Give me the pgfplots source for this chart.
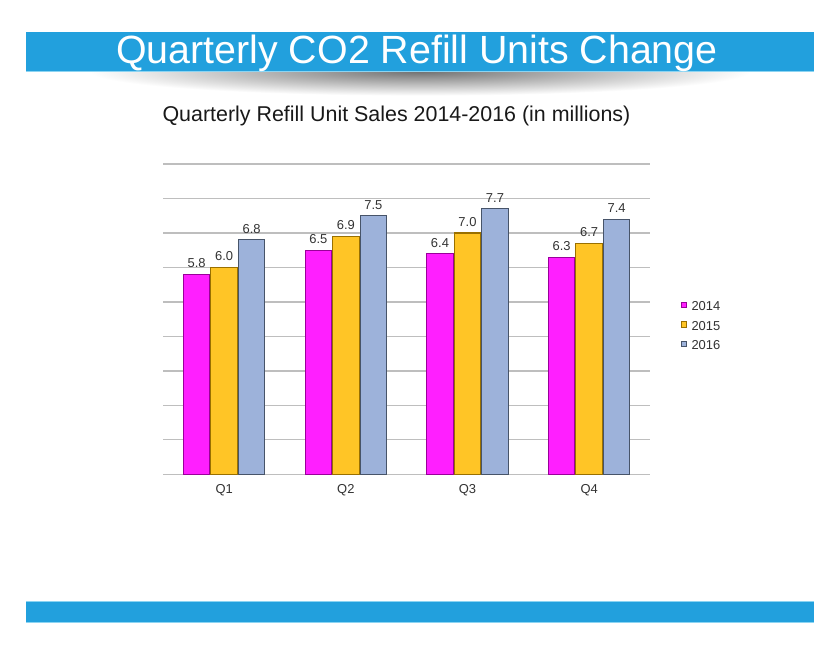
\documentclass[border=0pt]{standalone}
\usepackage{graphicx}
\usepackage{pgfplots}
\pgfplotsset{compat=1.18}
\usepackage{fontspec}
\setmainfont{Liberation Sans}
\definecolor{banner}{HTML}{22A0DD}
\definecolor{bannerlight}{HTML}{8CD4F2}
\definecolor{cMag}{HTML}{FF1FFF}
\definecolor{cMagD}{HTML}{9A009A}
\definecolor{cOr}{HTML}{FFC526}
\definecolor{cOrD}{HTML}{9A7000}
\definecolor{cBl}{HTML}{9DB2DA}
\definecolor{cBlD}{HTML}{475469}
\definecolor{gridc}{HTML}{BEBEBE}
\definecolor{txt}{HTML}{333333}
\begin{document}
\begin{tikzpicture}
\fill[white] (0,0) rectangle (838bp,646bp);
\useasboundingbox (0,0) rectangle (838bp,646bp);
\begin{scope}
\clip (26bp,540bp) rectangle (814bp,574.3bp);
\shade[inner color=black!55, outer color=white] (420bp,574.3bp) ellipse (330bp and 24bp);
\end{scope}
\fill[banner] (26bp,574.3bp) rectangle (814bp,613.7bp);
\draw[bannerlight, line width=1bp] (26bp,574.8bp) -- (814bp,574.8bp);
\node[anchor=base, white, font=\fontsize{39.5}{44}\selectfont, inner sep=0pt] at (417bp,582bp) {Quarterly CO2 Refill Units Change};
\node[anchor=base, text=black!90, font=\fontsize{21.5}{24}\selectfont, inner sep=0pt] at (396.5bp,524.3bp) {Quarterly Refill Unit Sales 2014-2016 (in millions)};
\fill[banner] (26bp,22.7bp) rectangle (814bp,45bp);
\draw[bannerlight, line width=1bp] (26bp,44.5bp) -- (814bp,44.5bp);
\draw[bannerlight, line width=1bp] (26bp,23.2bp) -- (814bp,23.2bp);
\begin{axis}[
 at={(163.3bp,171.7bp)}, anchor=south west,
 width=486.7bp, height=310.3bp, scale only axis,
 ymin=0, ymax=9, ytick={0,1,...,9}, yticklabels={},
 xmin=-0.5, xmax=3.5, xtick={0,1,2,3}, xticklabels={Q1,Q2,Q3,Q4},
 axis line style={draw=none}, major tick length=0pt,
 ymajorgrids, grid style={gridc, line width=1.3bp},
 ybar=1bp, bar width=26.5bp,
 xticklabel style={font=\fontsize{13}{15}\selectfont, text=txt, anchor=base, yshift=-19bp},
 nodes near coords={\pgfmathprintnumber[fixed,fixed zerofill,precision=1,assume math mode=true]{\pgfplotspointmeta}},
 nodes near coords style={font=\fontsize{13}{15}\selectfont, text=txt, yshift=2.5bp},
 legend style={at={(axis description cs:1.0631,0.557)}, anchor=north west, draw=none, fill=none, inner sep=0pt, outer sep=0pt, font=\fontsize{13}{15}\selectfont, text=txt, row sep=10bp, column sep=5bp, nodes={inner sep=0pt, text height=9.3bp, text depth=0pt, anchor=base west}},
 legend image code/.code={\draw[#1, line width=0.6bp] (0bp,3.2bp) rectangle (5.2bp,8.4bp);},
]
\addplot[fill=cMag, draw=cMagD, line width=1.1bp] coordinates {(0,5.8) (1,6.5) (2,6.4) (3,6.3)};
\addplot[fill=cOr, draw=cOrD, line width=1.1bp] coordinates {(0,6.0) (1,6.9) (2,7.0) (3,6.7)};
\addplot[fill=cBl, draw=cBlD, line width=1.1bp] coordinates {(0,6.8) (1,7.5) (2,7.7) (3,7.4)};
\legend{2014,2015,2016}
\end{axis}
\end{tikzpicture}
\end{document}
